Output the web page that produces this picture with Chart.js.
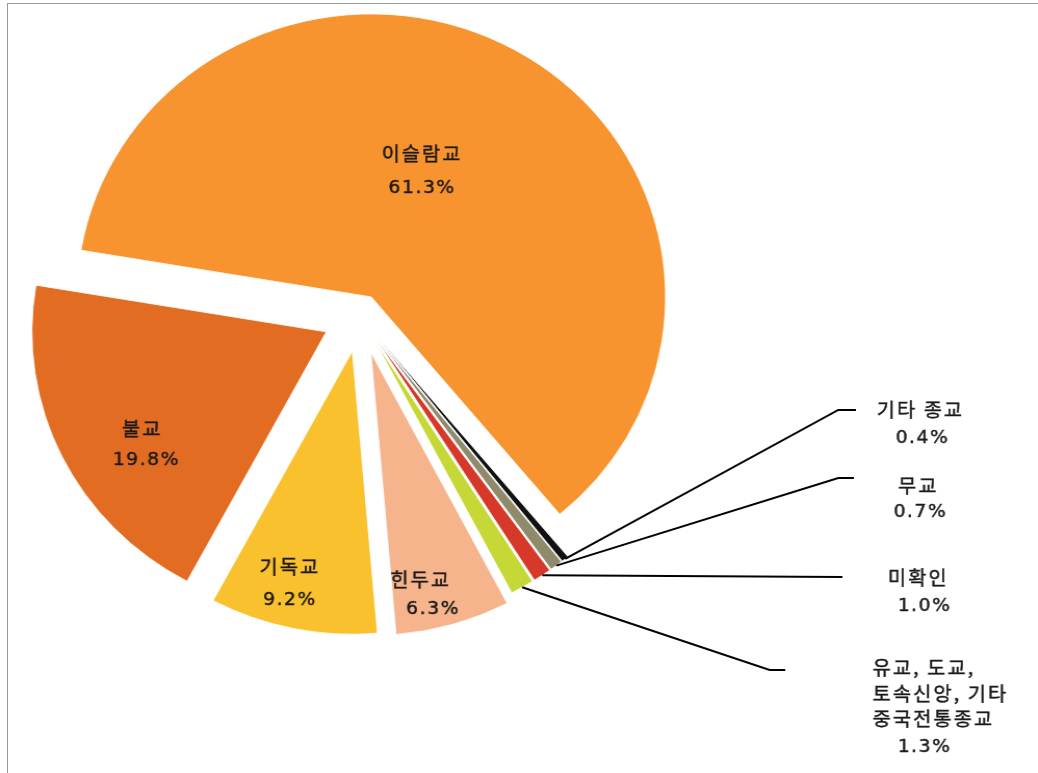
<!DOCTYPE html>
<html lang="ko">
<head>
<meta charset="utf-8">
<title>종교 분포</title>
<script src="https://cdn.jsdelivr.net/npm/chart.js@4.4.1/dist/chart.umd.min.js"></script>
<style>
  html, body { margin: 0; padding: 0; background: #fff; overflow: hidden; }
  #frame { position: absolute; left: 7px; top: 3px; width: 1040px; height: 780px;
           border-top: 1px solid #9a9a9a; border-left: 1px solid #9a9a9a; }
  /* the source picture is a little wider than tall, so stretch the canvas */
  #wrap { position: absolute; left: 0; top: 0; width: 998px; height: 773px;
          transform: scaleX(1.04); transform-origin: 0 0; }
</style>
</head>
<body>
<div id="frame"></div>
<div id="wrap"><canvas id="pie" width="998" height="773"></canvas></div>
<script>
(function(){
  // --- data ---
  var categories = ['이슬람교', '기타 종교', '무교', '미확인', '유교, 도교, 토속신앙, 기타 중국전통종교', '힌두교', '기독교', '불교'];
  var shares = [61.3, 0.4, 0.7, 1.0, 1.3, 6.3, 9.2, 19.8];
  var nameLines = [['이슬람교'], ['기타 종교'], ['무교'], ['미확인'], ['유교, 도교,', '토속신앙, 기타', '중국전통종교'], ['힌두교'], ['기독교'], ['불교']];
  var pctText = shares.map(function(v){ return v.toFixed(1) + '%'; });

  // --- style ---
  var sliceColors = ['#F7942F', '#111111', '#8F8A6A', '#D6382A', '#C6D835', '#F6B48D', '#F9C12E', '#E36C23'];
  var sliceOffsets = [22, 30, 30, 30, 30, 38, 36, 36];
  var textColor = '#1e1a1a';
  var nameFont = '19px "Noto Sans CJK KR", "DejaVu Sans", sans-serif';
  var pctFont = '18px "DejaVu Sans", "Noto Sans CJK KR", sans-serif';

  // labels inside the slice: polar spot relative to the slice
  var inLabels = {
    0: { frac: 0.477, da: -8.6, gap: 35, dx: [0, 0] },
    5: { frac: 0.876, da: 3.7, gap: 30, dx: [-6, 6] },
    6: { frac: 0.848, da: 2.8, gap: 34, dx: [0, 0] },
    7: { frac: 0.735, da: -6.6, gap: 32, dx: [-2, 2] }
  };
  // labels outside with leader lines
  var outLabels = {
    1: { lines: [[885, 410, 'center'], [887, 438, 'center']], leg: [[806, 410], [823, 410]] },
    2: { lines: [[883, 486, 'center'], [885, 512, 'center']], leg: [[806, 478], [821, 478]] },
    3: { lines: [[883, 578, 'center'], [889, 606, 'center']], leg: [[810, 577]] },
    4: { lines: [[839, 668, 'left'], [839, 694, 'left'], [839, 719, 'left'], [889, 747, 'center']], leg: [[740, 670], [755, 670]] }
  };

  // pie slice that is pushed out by its full offset (Excel style explode)
  class ExplodedArc extends Chart.ArcElement {
    static id = 'explodedArc';
    draw(ctx){
      var o = this.options, d = o.offset || 0;
      var mid = (this.startAngle + this.endAngle) / 2;
      var cx = this.x + Math.cos(mid) * d, cy = this.y + Math.sin(mid) * d;
      ctx.save();
      ctx.beginPath();
      ctx.moveTo(cx, cy);
      ctx.arc(cx, cy, this.outerRadius, this.startAngle, this.endAngle);
      ctx.closePath();
      ctx.fillStyle = o.backgroundColor;
      ctx.fill();
      if (o.borderWidth) {
        ctx.lineWidth = o.borderWidth;
        ctx.strokeStyle = o.borderColor;
        ctx.lineJoin = 'miter';
        ctx.stroke();
      }
      ctx.restore();
    }
  }
  class ExplodedPie extends Chart.PieController {
    static id = 'explodedPie';
    static defaults = { dataElementType: 'explodedArc' };
  }
  Chart.register(ExplodedArc, ExplodedPie);

  function geom(arc){
    var p = arc.getProps(['x', 'y', 'startAngle', 'endAngle', 'outerRadius'], true);
    var mid = (p.startAngle + p.endAngle) / 2, d = arc.options.offset || 0;
    return { cx: p.x + Math.cos(mid) * d, cy: p.y + Math.sin(mid) * d, r: p.outerRadius, mid: mid };
  }

  function text(ctx, t, x, y, isPct){
    ctx.font = isPct ? pctFont : nameFont;
    if ('letterSpacing' in ctx) ctx.letterSpacing = isPct ? '1.5px' : '2px';
    ctx.fillText(t, x, y);
    ctx.strokeText(t, x, y);   // thin stroke to get the heavier look of the original
  }

  var labelPlugin = {
    id: 'sliceLabels',
    afterDatasetsDraw: function(chart){
      var ctx = chart.ctx;
      var arcs = chart.getDatasetMeta(0).data;
      ctx.save();
      ctx.fillStyle = textColor;
      ctx.textBaseline = 'middle';
      arcs.forEach(function(arc, i){
        var g = geom(arc);
        var lab = inLabels[i];
        ctx.strokeStyle = textColor;
        ctx.lineWidth = 0.45;
        if (lab) {
          var a = g.mid + lab.da * Math.PI / 180;
          var x = g.cx + Math.cos(a) * g.r * lab.frac;
          var y = g.cy + Math.sin(a) * g.r * lab.frac;
          ctx.textAlign = 'center';
          text(ctx, nameLines[i][0], x + lab.dx[0], y - lab.gap / 2, false);
          text(ctx, pctText[i], x + lab.dx[1], y + lab.gap / 2, true);
          return;
        }
        var out = outLabels[i];
        if (!out) return;
        var texts = nameLines[i].concat([pctText[i]]);
        texts.forEach(function(t, k){
          var ln = out.lines[k];
          ctx.textAlign = ln[2];
          text(ctx, t, ln[0], ln[1], k === texts.length - 1);
        });
        ctx.beginPath();
        ctx.moveTo(g.cx + Math.cos(g.mid) * g.r, g.cy + Math.sin(g.mid) * g.r);
        out.leg.forEach(function(pt){ ctx.lineTo(pt[0], pt[1]); });
        ctx.lineWidth = 2;
        ctx.strokeStyle = '#000';
        ctx.stroke();
      });
      ctx.restore();
    }
  };

  function init(){
    var el = document.getElementById('pie');
    new Chart(el.getContext('2d'), {
      type: 'explodedPie',
      data: {
        labels: categories,
        datasets: [{
          data: shares,
          backgroundColor: sliceColors,
          offset: sliceOffsets,
          borderColor: '#ffffff',
          borderWidth: 0.8,
          clip: false
        }]
      },
      options: {
        responsive: false,
        animation: false,
        events: [],
        rotation: 279.5,
        radius: 283,
        layout: { padding: { left: 0, right: 306, top: 0, bottom: 141 } },
        plugins: { legend: { display: false }, tooltip: { enabled: false } }
      },
      plugins: [labelPlugin]
    });
  }
  if (document.readyState === 'loading') document.addEventListener('DOMContentLoaded', init); else init();
})();
</script>
</body>
</html>
